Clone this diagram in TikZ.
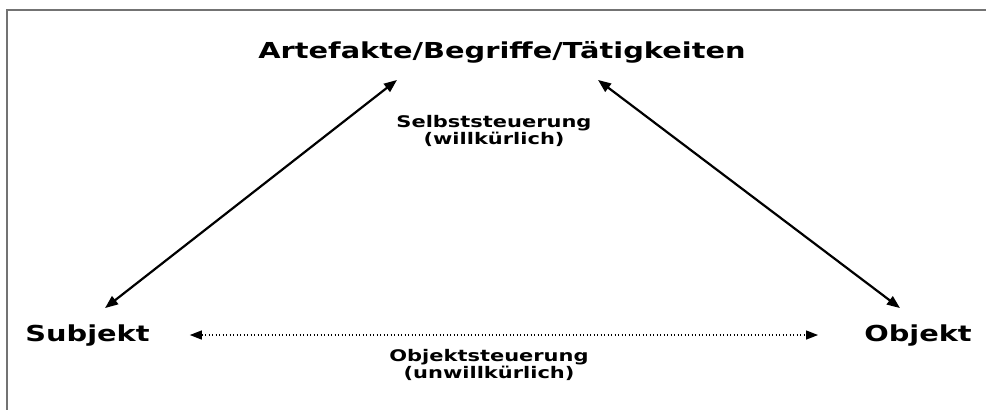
\documentclass[tikz,border=0pt]{standalone}
\usepackage{fontspec}
\setmainfont{DejaVu Sans}
\newfontfamily\widesans[FakeStretch=1.31]{DejaVu Sans}
\usetikzlibrary{arrows.meta}
\usetikzlibrary{positioning}

\begin{document}
\begin{tikzpicture}[x=1pt,y=-1pt,
  pole/.style={font=\widesans\bfseries\fontsize{22}{26}\selectfont, inner sep=2pt},
  note/.style={font=\widesans\bfseries\fontsize{16}{17}\selectfont, align=center, inner sep=1pt},
  biarrow/.style={{Triangle[length=13pt,width=10pt]}-{Triangle[length=13pt,width=10pt]}, line width=2.2pt},
  dotarrow/.style={{Triangle[length=12pt,width=9pt]}-{Triangle[length=12pt,width=9pt]}, line width=1.3pt, dash pattern=on 1.3pt off 2.2pt},
  frame/.style={draw=black!55, line width=2pt}]

\useasboundingbox (0,0) rectangle (986,410);

% frame
\draw[frame] (986,10) -- (7,10) -- (7,410);

% poles
\node (top) [pole, anchor=base] at (502,58) {Artefakte/Begriffe/Tätigkeiten};
\node (subj) [pole, anchor=base] at (87.5,341) {Subjekt};
\node (obj) [pole, anchor=base] at (918,341) {Objekt};

% labels
\node (self) [note, anchor=base] at (494,144) {Selbststeuerung\\(willkürlich)};
\node (objst) [note, anchor=base] at (489,378) {Objektsteuerung\\(unwillkürlich)};

% connectors
\draw[biarrow] ([xshift=17.5pt,yshift=14pt]subj.north) -- ([xshift=-105pt,yshift=-15pt]top.south);
\draw[biarrow] ([xshift=96pt,yshift=-15pt]top.south) -- ([xshift=-18pt,yshift=14pt]obj.north);
\draw[dotarrow, shorten <=38pt, shorten >=44pt] (subj.east) -- (obj.west);

\end{tikzpicture}
\end{document}
